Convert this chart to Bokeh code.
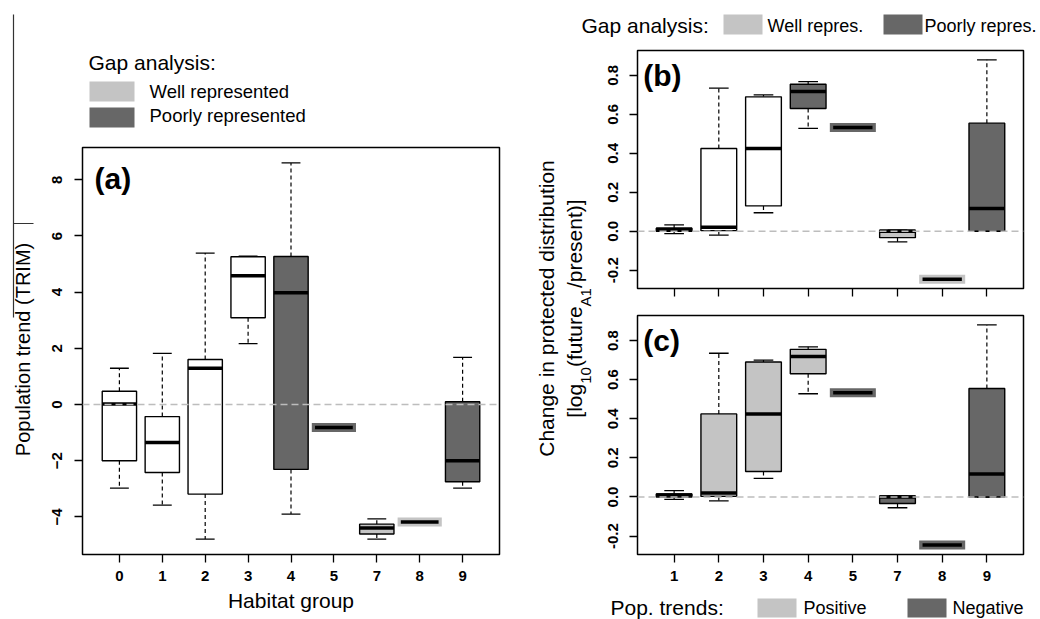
import math
import numpy as np
from bokeh.plotting import figure
from bokeh.models import Range1d, FixedTicker, Span, Label
from bokeh.layouts import row, column
from bokeh.embed import file_html
from bokeh.resources import INLINE

FONT = "Liberation Sans"
LIGHT = "#c4c4c4"
DARK = "#676767"
WHITE = "#ffffff"
FILL = {"none": WHITE, "well": LIGHT, "poor": DARK, "pos": LIGHT, "neg": DARK}

# ---------------- data ----------------
# Panel (a): population trend (TRIM) by habitat group
habitat_a = ["0", "1", "2", "3", "4", "5", "7", "8", "9"]
a_low = [-2.98, -3.58, -4.79, 2.17, -3.90, -0.82, -4.79, -4.18, -2.98]
a_q1 = [-2.00, -2.42, -3.19, 3.09, -2.31, -0.82, -4.61, -4.18, -2.75]
a_med = [0.02, -1.35, 1.29, 4.58, 3.98, -0.82, -4.40, -4.18, -2.00]
a_q3 = [0.47, -0.43, 1.60, 5.26, 5.27, -0.82, -4.26, -4.18, 0.10]
a_high = [1.29, 1.82, 5.39, 5.28, 8.60, -0.82, -4.07, -4.18, 1.68]
gap_a = ["none", "none", "none", "none", "poor", "poor", "well", "well", "poor"]

# Panels (b) and (c): change in protected distribution
habitat_bc = ["1", "2", "3", "4", "5", "7", "8", "9"]
bc_low = [-0.012, -0.020, 0.095, 0.528, 0.533, -0.055, -0.246, 0.000]
bc_q1 = [0.000, 0.003, 0.130, 0.630, 0.533, -0.033, -0.246, 0.000]
bc_med = [0.010, 0.020, 0.425, 0.718, 0.533, 0.000, -0.246, 0.117]
bc_q3 = [0.015, 0.425, 0.690, 0.755, 0.533, 0.005, -0.246, 0.555]
bc_high = [0.033, 0.735, 0.700, 0.768, 0.533, 0.005, -0.246, 0.880]
gap_b = ["none", "none", "none", "poor", "poor", "well", "well", "poor"]
trend_c = ["none", "pos", "pos", "pos", "neg", "neg", "neg", "neg"]

yticks_a = [-4, -2, 0, 2, 4, 6, 8]
yticks_bc = [-0.2, 0.0, 0.2, 0.4, 0.6, 0.8]
ytick_labels_bc = ["-0.2", "0.0", "0.2", "0.4", "0.6", "0.8"]

# Arial / Liberation Sans advance widths (per 1000 em) for label layout
ADV = {'[': 278, ']': 278, 'l': 222, 'o': 556, 'g': 556, '1': 556, '0': 556,
       '(': 333, ')': 333, 'f': 278, 'u': 556, 't': 278, 'r': 333, 'e': 556,
       'A': 667, '/': 278, 'p': 556, 's': 500, 'n': 556}


def tw(s, size):
    return sum(ADV.get(c, 556) for c in s) * size / 1000.0


def no_align(p):
    if hasattr(p, "frame_align"):
        p.frame_align = False


def blank(w, h, bl=0, br=0):
    # data coordinates equal canvas pixels (y downwards)
    p = figure(width=w, height=h, x_range=Range1d(bl, w - br), y_range=Range1d(h, 0),
               output_backend="svg", toolbar_location=None, min_border=0,
               x_axis_type=None, y_axis_type=None)
    p.min_border_left = bl
    p.min_border_right = br
    p.outline_line_color = None
    p.xgrid.visible = False
    p.ygrid.visible = False
    p.background_fill_color = "white"
    p.border_fill_color = "white"
    no_align(p)
    return p


def txt(p, x, y, s, size, **kw):
    lab = Label(x=x, y=y, text=s, text_font=FONT, text_font_size=f"{size}px",
                text_color="black", text_baseline=kw.pop("baseline", "middle"),
                text_align=kw.pop("align", "left"), **kw)
    p.add_layout(lab)


def panel(w, h, xr, yr, mb, ystand=11):
    p = figure(width=w, height=h, x_range=Range1d(*xr), y_range=Range1d(*yr),
               output_backend="svg", toolbar_location=None, min_border=0)
    p.min_border_left, p.min_border_right, p.min_border_top, p.min_border_bottom = mb
    p.xgrid.visible = False
    p.ygrid.visible = False
    p.outline_line_color = "black"
    p.outline_line_width = 1.5
    p.background_fill_color = "white"
    p.border_fill_color = "white"
    for ax in (p.xaxis[0], p.yaxis[0]):
        ax.axis_line_color = None
        ax.major_tick_line_color = "black"
        ax.major_tick_line_width = 1.3
        ax.major_tick_out = 8
        ax.major_tick_in = 0
        ax.minor_tick_line_color = None
        ax.major_label_text_font = FONT
        ax.major_label_text_font_style = "bold"
        ax.major_label_text_font_size = "15px"
        ax.major_label_text_color = "black"
        ax.major_label_standoff = 8
    p.yaxis.major_label_orientation = "vertical"
    p.yaxis.major_label_standoff = ystand
    no_align(p)
    return p


def draw_boxes(p, low, q1, med, q3, high, kinds):
    low, q1, med, q3, high = map(np.asarray, (low, q1, med, q3, high))
    pos = np.arange(1, len(med) + 1, dtype=float)
    cols = np.array([FILL[k] for k in kinds])
    flat = (q3 - q1 == 0) & (high - low == 0)
    nf = ~flat
    bw, cw = 0.8, 0.22
    # whiskers (dashed)
    p.segment(x0=pos[nf], y0=q3[nf], x1=pos[nf], y1=high[nf],
              line_color="black", line_width=1.2, line_dash="4 3")
    p.segment(x0=pos[nf], y0=q1[nf], x1=pos[nf], y1=low[nf],
              line_color="black", line_width=1.2, line_dash="4 3")
    # staples
    p.segment(x0=pos[nf] - cw, y0=high[nf], x1=pos[nf] + cw, y1=high[nf],
              line_color="black", line_width=1.3)
    p.segment(x0=pos[nf] - cw, y0=low[nf], x1=pos[nf] + cw, y1=low[nf],
              line_color="black", line_width=1.3)
    # boxes
    p.vbar(x=pos[nf], width=bw, bottom=q1[nf], top=q3[nf], fill_color=list(cols[nf]),
           line_color="black", line_width=1.4)
    p.segment(x0=pos[nf] - bw / 2, y0=med[nf], x1=pos[nf] + bw / 2, y1=med[nf],
              line_color="black", line_width=3.5)
    # single-value groups
    p.rect(x=pos[flat], y=med[flat], width=1.03, height=9, height_units="screen",
           fill_color=list(cols[flat]), line_color=None)
    p.segment(x0=pos[flat] - 0.44, y0=med[flat], x1=pos[flat] + 0.44, y1=med[flat],
              line_color="black", line_width=3.5)
    p.add_layout(Span(location=0, dimension="width", line_color="#bdbdbd",
                      line_width=1.3, line_dash="7 4"))


# ---------------- left column (x 0..520) ----------------
stripA = blank(36, 619)
stripA.segment(x0=[13], y0=[14], x1=[13], y1=[317], line_color="#333333", line_width=1.2)
stripA.segment(x0=[13], y0=[223], x1=[33], y1=[223], line_color="#333333", line_width=1.2)
txt(stripA, 22, 349, "Population trend (TRIM)", 20, align="center", angle=math.pi / 2)

# legend canvas spans x 36..520, its frame matches panel (a)'s frame
legA = blank(484, 142, bl=46, br=21)
txt(legA, 52, 62, "Gap analysis:", 21)
legA.quad(left=[53, 53], right=[98, 98], top=[81, 107], bottom=[101, 127],
          fill_color=[LIGHT, DARK], line_color=None)
txt(legA, 113, 91, "Well represented", 18.5)
txt(legA, 113, 115, "Poorly represented", 18.5)

pos_a = list(range(1, len(habitat_a) + 1))
figA = panel(484, 477, (0.14, 9.86), (-5.34, 9.15), (46, 21, 5, 65), ystand=12)
figA.xaxis.ticker = FixedTicker(ticks=pos_a)
figA.xaxis.major_label_overrides = {i: s for i, s in zip(pos_a, habitat_a)}
figA.yaxis.ticker = FixedTicker(ticks=yticks_a)
figA.xaxis.axis_label = "Habitat group"
figA.xaxis.axis_label_text_font = FONT
figA.xaxis.axis_label_text_font_style = "normal"
figA.xaxis.axis_label_text_font_size = "21px"
figA.xaxis.axis_label_text_color = "black"
figA.xaxis.axis_label_standoff = 5
draw_boxes(figA, a_low, a_q1, a_med, a_q3, a_high, gap_a)
txt(figA, 0.42, 8.04, "(a)", 30, text_font_style="bold")

left_col = row(stripA, column(legA, figA))

# ---------------- right column (x 520..1040) ----------------
legB = blank(520, 46)
txt(legB, 61, 25, "Gap analysis:", 21)
legB.quad(left=[203, 363], right=[242, 402], top=[14, 14], bottom=[34, 34],
          fill_color=[LIGHT, DARK], line_color=None)
txt(legB, 247, 25, "Well repres.", 18)
txt(legB, 404, 25, "Poorly repres.", 18)

stripB = blank(80, 544)
ymid = 262
txt(stripB, 26, ymid, "Change in protected distribution", 21, align="center",
    angle=math.pi / 2)
pieces = [("[log", 21, 0), ("10", 15, 11), ("(future", 21, 0), ("A1", 15, 11), ("/present)]", 21, 0)]
total = sum(tw(s, sz) for s, sz, _ in pieces)
ycur = ymid + total / 2
for s, sz, off in pieces:
    txt(stripB, 54 + off, ycur, s, sz, angle=math.pi / 2)
    ycur -= tw(s, sz)

pos_bc = list(range(1, len(habitat_bc) + 1))
yr_bc = (-0.294, 0.928)

figB = panel(440, 254, (0.18, 8.82), yr_bc, (37, 17, 4, 12))
figB.xaxis.ticker = FixedTicker(ticks=pos_bc)
figB.xaxis.major_label_overrides = {i: "" for i in pos_bc}
figB.xaxis.major_label_text_font_size = "1px"
figB.xaxis.major_label_standoff = 0
figB.yaxis.ticker = FixedTicker(ticks=yticks_bc)
figB.yaxis.major_label_overrides = {t: s for t, s in zip(yticks_bc, ytick_labels_bc)}
draw_boxes(figB, bc_low, bc_q1, bc_med, bc_q3, bc_high, gap_b)
txt(figB, 0.31, 0.80, "(b)", 30, text_font_style="bold")

figC = panel(440, 290, (0.18, 8.82), yr_bc, (37, 17, 15, 36))
figC.xaxis.ticker = FixedTicker(ticks=pos_bc)
figC.xaxis.major_label_overrides = {i: s for i, s in zip(pos_bc, habitat_bc)}
figC.yaxis.ticker = FixedTicker(ticks=yticks_bc)
figC.yaxis.major_label_overrides = {t: s for t, s in zip(yticks_bc, ytick_labels_bc)}
draw_boxes(figC, bc_low, bc_q1, bc_med, bc_q3, bc_high, trend_c)
txt(figC, 0.31, 0.80, "(c)", 30, text_font_style="bold")

legC = blank(520, 29)
txt(legC, 90, 17, "Pop. trends:", 21)
legC.quad(left=[237, 387], right=[276, 426], top=[8, 8], bottom=[27, 27],
          fill_color=[LIGHT, DARK], line_color=None)
txt(legC, 283, 17, "Positive", 18)
txt(legC, 432, 17, "Negative", 18)

right_col = column(legB, row(stripB, column(figB, figC)), legC)

layout = row(left_col, right_col)

with open("out.html", "w") as f:
    f.write(file_html(layout, INLINE))
